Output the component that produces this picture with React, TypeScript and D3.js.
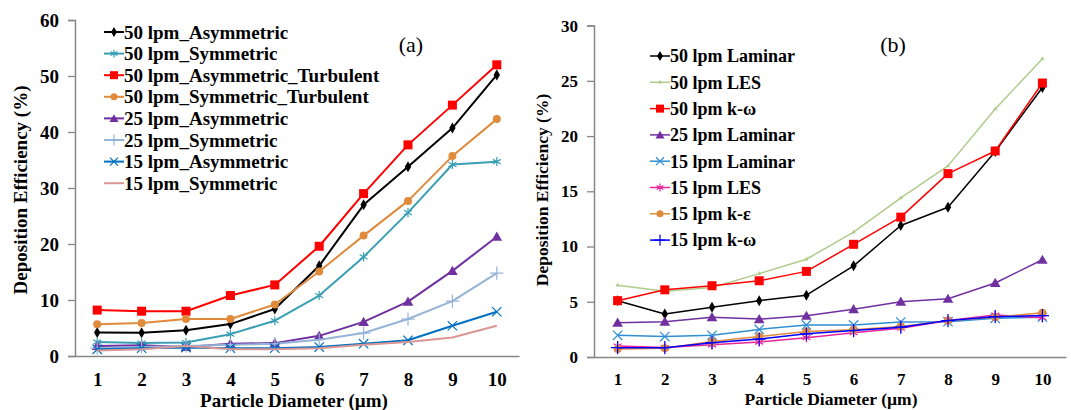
import { useEffect, useRef } from 'react'
import * as d3 from 'd3'

const DIAMETERS = [1, 2, 3, 4, 5, 6, 7, 8, 9, 10]

// panel (a)
const A_50_ASYM = [4.2, 4.15, 4.6, 5.7, 8.4, 16.1, 27.0, 33.8, 40.7, 50.2]
const A_50_SYM = [2.5, 2.3, 2.4, 3.9, 6.3, 10.8, 17.7, 25.6, 34.2, 34.7]
const A_50_ASYM_TURB = [8.2, 8.0, 8.0, 10.8, 12.7, 19.6, 29.0, 37.7, 44.8, 52.0]
const A_50_SYM_TURB = [5.65, 5.9, 6.6, 6.6, 9.2, 15.1, 21.5, 27.7, 35.7, 42.3]
const A_25_ASYM = [1.8, 1.9, 1.6, 2.2, 2.3, 3.6, 6.1, 9.7, 15.2, 21.3]
const A_25_SYM = [1.4, 1.6, 1.8, 2.0, 2.2, 2.9, 4.1, 6.6, 9.8, 14.8]
const A_15_ASYM = [1.2, 1.4, 1.5, 1.4, 1.4, 1.6, 2.2, 2.8, 5.4, 7.9]
const A_15_SYM = [1.0, 1.2, 1.8, 1.2, 1.2, 1.4, 2.0, 2.5, 3.3, 5.4]
const A_TICKS = [0, 10, 20, 30, 40, 50, 60]

// panel (b)
const B_50_LAM = [5.1, 3.9, 4.5, 5.1, 5.6, 8.25, 11.9, 13.56, 18.6, 24.4]
const B_50_LES = [6.5, 5.95, 6.3, 7.55, 8.85, 11.3, 14.4, 17.3, 22.45, 27.0]
const B_50_KW = [5.1, 6.08, 6.45, 6.9, 7.75, 10.2, 12.66, 16.6, 18.65, 24.8]
const B_25_LAM = [3.1, 3.2, 3.6, 3.43, 3.73, 4.33, 5.0, 5.27, 6.7, 8.8]
const B_15_LAM = [1.96, 1.85, 1.96, 2.5, 2.9, 2.9, 3.16, 3.2, 3.5, 3.6]
const B_15_LES = [1.0, 0.85, 1.1, 1.35, 1.75, 2.2, 2.6, 3.3, 3.8, 3.55]
const B_15_KE = [0.72, 0.8, 1.4, 1.86, 2.3, 2.47, 2.75, 3.3, 3.6, 4.0]
const B_15_KW = [0.84, 0.84, 1.3, 1.62, 2.1, 2.4, 2.7, 3.3, 3.65, 3.75]
const B_TICKS = [0, 5, 10, 15, 20, 25, 30]

const SERIES_A = [
  { name: '50 lpm_Asymmetric', values: A_50_ASYM, color: '#000000', marker: 'diamond' },
  { name: '50 lpm_Symmetric', values: A_50_SYM, color: '#3a9fb4', marker: 'asterisk' },
  { name: '50 lpm_Asymmetric_Turbulent', values: A_50_ASYM_TURB, color: '#ff0000', marker: 'square' },
  { name: '50 lpm_Symmetric_Turbulent', values: A_50_SYM_TURB, color: '#e08a3c', marker: 'circle' },
  { name: '25 lpm_Asymmetric', values: A_25_ASYM, color: '#7030a0', marker: 'triangle' },
  { name: '25 lpm_Symmetric', values: A_25_SYM, color: '#95b3d7', marker: 'plus' },
  { name: '15 lpm_Asymmetric', values: A_15_ASYM, color: '#0070c0', marker: 'x' },
  { name: '15 lpm_Symmetric', values: A_15_SYM, color: '#d99694', marker: 'none' },
]

const SERIES_B = [
  { name: '50 lpm Laminar', values: B_50_LAM, color: '#000000', marker: 'diamond' },
  { name: '50 lpm LES', values: B_50_LES, color: '#b0cb8a', marker: 'dash' },
  { name: '50 lpm k-ω', values: B_50_KW, color: '#ff0000', marker: 'square' },
  { name: '25 lpm Laminar', values: B_25_LAM, color: '#7030a0', marker: 'triangle' },
  { name: '15 lpm Laminar', values: B_15_LAM, color: '#2f8fd4', marker: 'x' },
  { name: '15 lpm LES', values: B_15_LES, color: '#e8259a', marker: 'asterisk' },
  { name: '15 lpm k-ε', values: B_15_KE, color: '#e08a3c', marker: 'circle' },
  { name: '15 lpm k-ω', values: B_15_KW, color: '#0000ff', marker: 'plus' },
]

const FONT = "'Liberation Serif', serif"

function boldText(sel, size) {
  return sel.style('font-family', FONT).style('font-weight', 'bold').style('font-size', `${size}px`)
    .attr('fill', '#000')
}

function drawMarker(g, kind, x, y, color, size) {
  const s = size
  if (kind === 'none') return
  if (kind === 'diamond') {
    g.append('path').attr('d', d3.symbol(d3.symbolDiamond, s * 5)()).attr('transform', `translate(${x},${y})`).attr('fill', color)
  } else if (kind === 'square') {
    g.append('rect').attr('x', x - s / 2 - 1).attr('y', y - s / 2 - 1).attr('width', s + 2).attr('height', s + 2).attr('fill', color)
  } else if (kind === 'circle') {
    g.append('circle').attr('cx', x).attr('cy', y).attr('r', s / 2 + 0.5).attr('fill', color)
  } else if (kind === 'triangle') {
    g.append('path').attr('d', d3.symbol(d3.symbolTriangle, s * s)()).attr('transform', `translate(${x},${y + 1})`).attr('fill', color)
  } else if (kind === 'dash') {
    g.append('path').attr('d', d3.symbol(d3.symbolTriangle, 8)()).attr('transform', `translate(${x},${y})`).attr('fill', color)
  } else {
    const type = kind === 'plus' ? d3.symbolPlus : kind === 'x' ? d3.symbolTimes : d3.symbolAsterisk
    g.append('path').attr('d', d3.symbol(type, s * s * 1.2)()).attr('transform', `translate(${x},${y})`)
      .attr('fill', 'none').attr('stroke', color).attr('stroke-width', 1.2)
  }
}

function drawPanel(svg, cfg) {
  const x = d3.scalePoint().domain(DIAMETERS).range(cfg.xRange).padding(0.5)
  const y = d3.scaleLinear().domain([0, cfg.yMax]).range(cfg.yRange)
  const g = svg.append('g')

  // axes
  g.append('g')
    .attr('transform', `translate(${cfg.xRange[0]},0)`)
    .call(d3.axisLeft(y).tickValues(cfg.ticks).tickSize(7).tickPadding(9))
    .call((a) => a.select('.domain').attr('stroke', '#868686').attr('stroke-width', 1.5))
    .call((a) => a.selectAll('.tick line').attr('stroke', '#868686').attr('stroke-width', 1.3))
    .call((a) => boldText(a.selectAll('text'), cfg.tickFont))

  g.append('g')
    .attr('transform', `translate(0,${cfg.yRange[0]})`)
    .call(d3.axisBottom(x).tickSize(0).tickPadding(cfg.xPad))
    .call((a) => a.select('.domain').attr('stroke', '#868686').attr('stroke-width', 1.5))
    .call((a) => boldText(a.selectAll('text'), cfg.tickFont))

  // titles
  boldText(g.append('text'), cfg.titleFont)
    .attr('transform', `translate(${cfg.yTitleX},${cfg.yTitleY}) rotate(-90)`)
    .attr('text-anchor', 'middle').text('Deposition Efficiency (%)')
  boldText(g.append('text'), cfg.titleFont)
    .attr('x', cfg.xTitleX).attr('y', cfg.xTitleY)
    .attr('text-anchor', 'middle').text('Particle Diameter (µm)')
  g.append('text')
    .attr('x', cfg.tagX).attr('y', cfg.tagY)
    .attr('text-anchor', 'middle').style('font-family', FONT)
    .style('font-size', '22px').text(cfg.tag)

  // series
  const line = d3.line().x((d, i) => x(DIAMETERS[i])).y((d) => y(d))
  cfg.series.forEach((s) => {
    g.append('path').datum(s.values).attr('d', line)
      .attr('fill', 'none').attr('stroke', s.color).attr('stroke-width', cfg.lineWidth)
      .attr('stroke-linejoin', 'round')
    s.values.forEach((v, i) => drawMarker(g, s.marker, x(DIAMETERS[i]), y(v), s.color, cfg.markerSize))
  })

  // legend
  cfg.series.forEach((s, i) => {
    const ly = cfg.legendY + i * cfg.legendStep
    g.append('line').attr('x1', cfg.legendX).attr('x2', cfg.legendX + 20)
      .attr('y1', ly).attr('y2', ly).attr('stroke', s.color).attr('stroke-width', cfg.lineWidth)
    drawMarker(g, s.marker, cfg.legendX + 10, ly, s.color, cfg.markerSize - 1)
    boldText(g.append('text'), cfg.legendFont)
      .attr('x', cfg.legendX + 20).attr('y', ly).attr('dy', '0.35em')
      .text(s.name)
  })
}

export default function App() {
  const svgRef = useRef(null)

  useEffect(() => {
    document.body.style.margin = '0'
    const svg = d3.select(svgRef.current)
    svg.selectAll('*').remove()

    drawPanel(svg, {
      series: SERIES_A, ticks: A_TICKS, yMax: 60,
      xRange: [75, 519], yRange: [356, 20],
      tickFont: 19, titleFont: 19, legendFont: 19, xPad: 17,
      yTitleX: 27, yTitleY: 190, xTitleX: 294, xTitleY: 407,
      tag: '(a)', tagX: 411, tagY: 52,
      legendX: 104, legendY: 32, legendStep: 21.6,
      lineWidth: 2, markerSize: 7,
    })

    drawPanel(svg, {
      series: SERIES_B, ticks: B_TICKS, yMax: 30,
      xRange: [594, 1066], yRange: [357, 25.6],
      tickFont: 17, titleFont: 17.5, legendFont: 18, xPad: 16,
      yTitleX: 548, yTitleY: 190, xTitleX: 831, xTitleY: 405,
      tag: '(b)', tagX: 893, tagY: 52,
      legendX: 650, legendY: 56, legendStep: 26.3,
      lineWidth: 1.5, markerSize: 7,
    })
  }, [])

  return <svg ref={svgRef} width={1071} height={410} style={{ display: 'block', background: '#fff' }} />
}
